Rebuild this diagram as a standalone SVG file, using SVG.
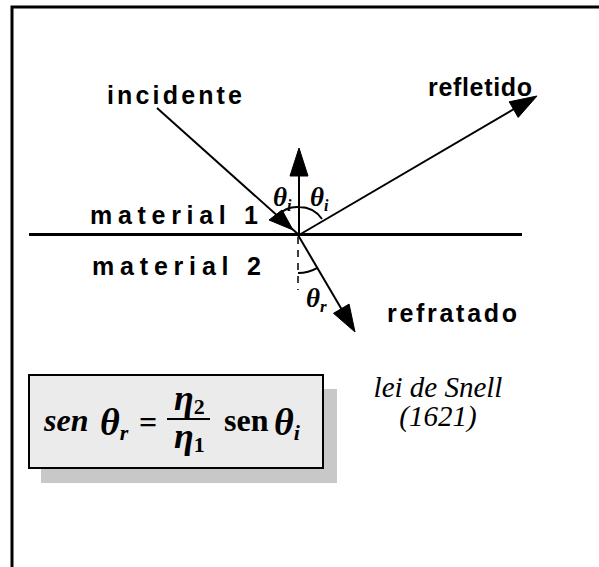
<svg xmlns="http://www.w3.org/2000/svg" width="599" height="567" viewBox="0 0 599 567">
<style>
.lbl{font-family:"Liberation Sans",Arial,sans-serif;font-weight:bold;font-size:25px;fill:#000}
.gr{font-family:"Liberation Serif","Times New Roman",serif;font-weight:bold;font-style:italic;fill:#000}
.ln{stroke:#000;stroke-width:2;fill:none}
.ah{fill:#000;stroke:#000;stroke-width:1}
.cap{font-family:"Liberation Serif","Times New Roman",serif;font-style:italic;font-size:29px;fill:#000}
</style>
<rect x="0" y="0" width="599" height="567" fill="#fff"/>
<path d="M12,567 V7 H599" fill="none" stroke="#000" stroke-width="3"/>
<g id="interface">
<line x1="29" y1="234.5" x2="522" y2="234.5" stroke="#000" stroke-width="3"/>
</g>
<g id="connectors">
<line class="ln" x1="157" y1="108" x2="299" y2="235"/>
<polygon class="ah" points="293,230 269,220 282,210"/>
<line class="ln" x1="299" y1="235" x2="299" y2="170"/>
<polygon class="ah" points="299,148 290,176 308,176"/>
<line class="ln" x1="299" y1="235" x2="514" y2="109"/>
<polygon class="ah" points="537,96 518.2,117.4 509.2,101.8"/>
<line class="ln" x1="298" y1="235" x2="345" y2="315"/>
<polygon class="ah" points="355,332 349.1,304.1 333.5,313.3"/>
<line x1="298" y1="237" x2="298" y2="290" stroke="#000" stroke-width="1.5" stroke-dasharray="7,6"/>
<path class="ln" d="M277,216 A28,28 0 0 1 299,207 A28,28 0 0 1 322,219" stroke-width="1.5"/>
<path class="ln" d="M298,273 A38,38 0 0 0 317.3,267.8" stroke-width="1.5"/>
</g>
<g id="labels">
<text class="lbl" x="428" y="96" textLength="104" lengthAdjust="spacing">refletido</text>
<text class="lbl" x="107" y="104" textLength="135" lengthAdjust="spacing">incidente</text>
<text class="lbl" x="90" y="224" textLength="168" lengthAdjust="spacing">material 1</text>
<text class="lbl" x="92" y="275" textLength="169" lengthAdjust="spacing">material 2</text>
<text class="lbl" x="387" y="322" textLength="130" lengthAdjust="spacing">refratado</text>
<text class="gr" x="273" y="206" font-size="27">θ<tspan font-size="16" dy="5">i</tspan></text>
<text class="gr" x="310" y="206" font-size="27">θ<tspan font-size="16" dy="5">i</tspan></text>
<text class="gr" x="306" y="307" font-size="27">θ<tspan font-size="17" dy="5">r</tspan></text>
</g>
<g id="formula">
<rect x="41" y="389" width="296" height="94" fill="#c8c8c8"/>
<rect x="29" y="375" width="294" height="93" fill="#ebebeb" stroke="#000" stroke-width="2"/>
<text class="gr" x="44" y="431" font-size="32">sen</text>
<text class="gr" x="100" y="435" font-size="38">θ<tspan font-size="22" dy="5">r</tspan></text>
<text x="139" y="433" font-family="Liberation Serif,serif" font-weight="bold" font-size="32">=</text>
<line x1="167" y1="419" x2="210" y2="419" stroke="#000" stroke-width="2"/>
<text class="gr" x="174" y="410" font-size="36">η<tspan font-size="22" dy="4" font-style="normal">2</tspan></text>
<text class="gr" x="174" y="448" font-size="36">η<tspan font-size="22" dy="4" font-style="normal">1</tspan></text>
<text x="224" y="431" font-family="Liberation Serif,serif" font-weight="bold" font-size="32">sen</text>
<text class="gr" x="274" y="435" font-size="38">θ<tspan font-size="22" dy="5">i</tspan></text>
</g>
<g id="caption">
<text class="cap" x="438" y="397" text-anchor="middle">lei de Snell</text>
<text class="cap" x="438" y="426" text-anchor="middle">(1621)</text>
</g>
</svg>
